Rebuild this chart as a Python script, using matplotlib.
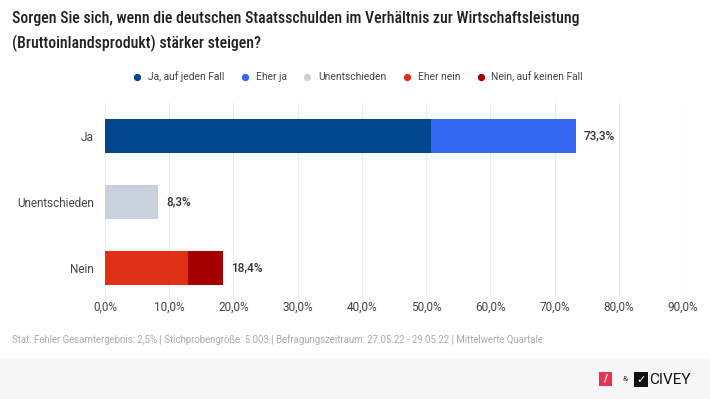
import matplotlib.pyplot as plt
import matplotlib.patches as mpatches
import numpy as np

plt.rcParams['font.family'] = ['Roboto', 'DejaVu Sans']

# Data
categories = ['Ja', 'Unentschieden', 'Nein']
series_names = ['Ja, auf jeden Fall', 'Eher ja', 'Unentschieden', 'Eher nein', 'Nein, auf keinen Fall']
series_values = [
    [50.7, 0, 0],
    [22.6, 0, 0],
    [0, 8.3, 0],
    [0, 0, 12.9],
    [0, 0, 5.5],
]
totals = [73.3, 8.3, 18.4]
colors = ['#00468C', '#3369F2', '#C8D2DC', '#E03018', '#A50000']
xticks = np.arange(0, 91, 10)

title = ('Sorgen Sie sich, wenn die deutschen Staatsschulden im Verhältnis zur Wirtschaftsleistung\n'
         '(Bruttoinlandsprodukt) stärker steigen?')
footer = ('Stat. Fehler Gesamtergebnis: 2,5% | Stichprobengröße: 5.003 | '
          'Befragungszeitraum: 27.05.22 - 29.05.22 | Mittelwerte Quartale')

fig = plt.figure(figsize=(7.1, 3.99), dpi=100)
fig.patch.set_facecolor('white')

# footer band
fig.patches.append(mpatches.Rectangle((0, 0), 1, 41 / 399, transform=fig.transFigure,
                                      facecolor='#F7F7F7', edgecolor='none', zorder=0))

ax = fig.add_axes([105 / 710, 1 - 297 / 399, (683 - 105) / 710, (297 - 103) / 399])
y = np.arange(len(categories))
left = np.zeros(len(categories))
for name, vals, c in zip(series_names, series_values, colors):
    ax.barh(y, vals, left=left, height=0.52, color=c, label=name, zorder=3)
    left += np.array(vals)

for yi, t in zip(y, totals):
    ax.text(t + 1.3, yi, f'{t:.1f}%'.replace('.', ','), va='center', ha='left',
            fontsize=8.5, color='#333333', fontweight='medium')

ax.set_xlim(0, 90)
ax.set_ylim(2.44, -0.5)
ax.set_xticks(xticks)
ax.set_xticklabels([f'{v:.1f}%'.replace('.', ',') for v in xticks], fontsize=8.5, color='#444444')
ax.set_yticks(y)
ax.set_yticklabels(categories, fontsize=8.5, color='#444444')
ax.tick_params(length=0)
ax.tick_params(axis='x', pad=3)
ax.tick_params(axis='y', pad=8)
ax.grid(axis='x', color='#EBEBEB', linewidth=0.8, zorder=0)
for s in ax.spines.values():
    s.set_visible(False)

fig.text(12 / 710, 1 - 31.5 / 399, title, ha='left', va='center', fontsize=11.4,
         fontweight='medium', family=['Roboto Condensed', 'DejaVu Sans'],
         color='#222222', linespacing=1.6)

# legend
handles = [plt.Line2D([], [], marker='o', linestyle='', markersize=4.2, color=c) for c in colors]
fig.legend(handles, series_names, loc='center', bbox_to_anchor=(355 / 710, 1 - 77 / 399),
           ncol=5, frameon=False, fontsize=7.4, handletextpad=0.05, columnspacing=1.0,
           labelcolor='#444444')

fig.text(12 / 710, 1 - 340 / 399, footer, ha='left', va='center', fontsize=6.95, color='#AAAAAA')

# logos
fig.patches.append(mpatches.Rectangle((599 / 710, 1 - 386 / 399), 13 / 710, 14 / 399,
                                      transform=fig.transFigure, facecolor='#E8344E', zorder=2))
fig.text(605.5 / 710, 1 - 379 / 399, '/', ha='center', va='center', color='white',
         fontsize=8, fontweight='bold')
fig.text(625 / 710, 1 - 379 / 399, '&', ha='center', va='center', color='#333333', fontsize=6)
fig.patches.append(mpatches.Rectangle((634 / 710, 1 - 387 / 399), 14 / 710, 15 / 399,
                                      transform=fig.transFigure, facecolor='#111111', zorder=2))
fig.text(641 / 710, 1 - 379.5 / 399, '✓', ha='center', va='center', color='white',
         fontsize=8, fontweight='bold', family='DejaVu Sans')
fig.text(649 / 710, 1 - 379.5 / 399, 'CIVEY', ha='left', va='center', color='#111111', fontsize=11)

fig.savefig('out.png', dpi=100, facecolor='white')
